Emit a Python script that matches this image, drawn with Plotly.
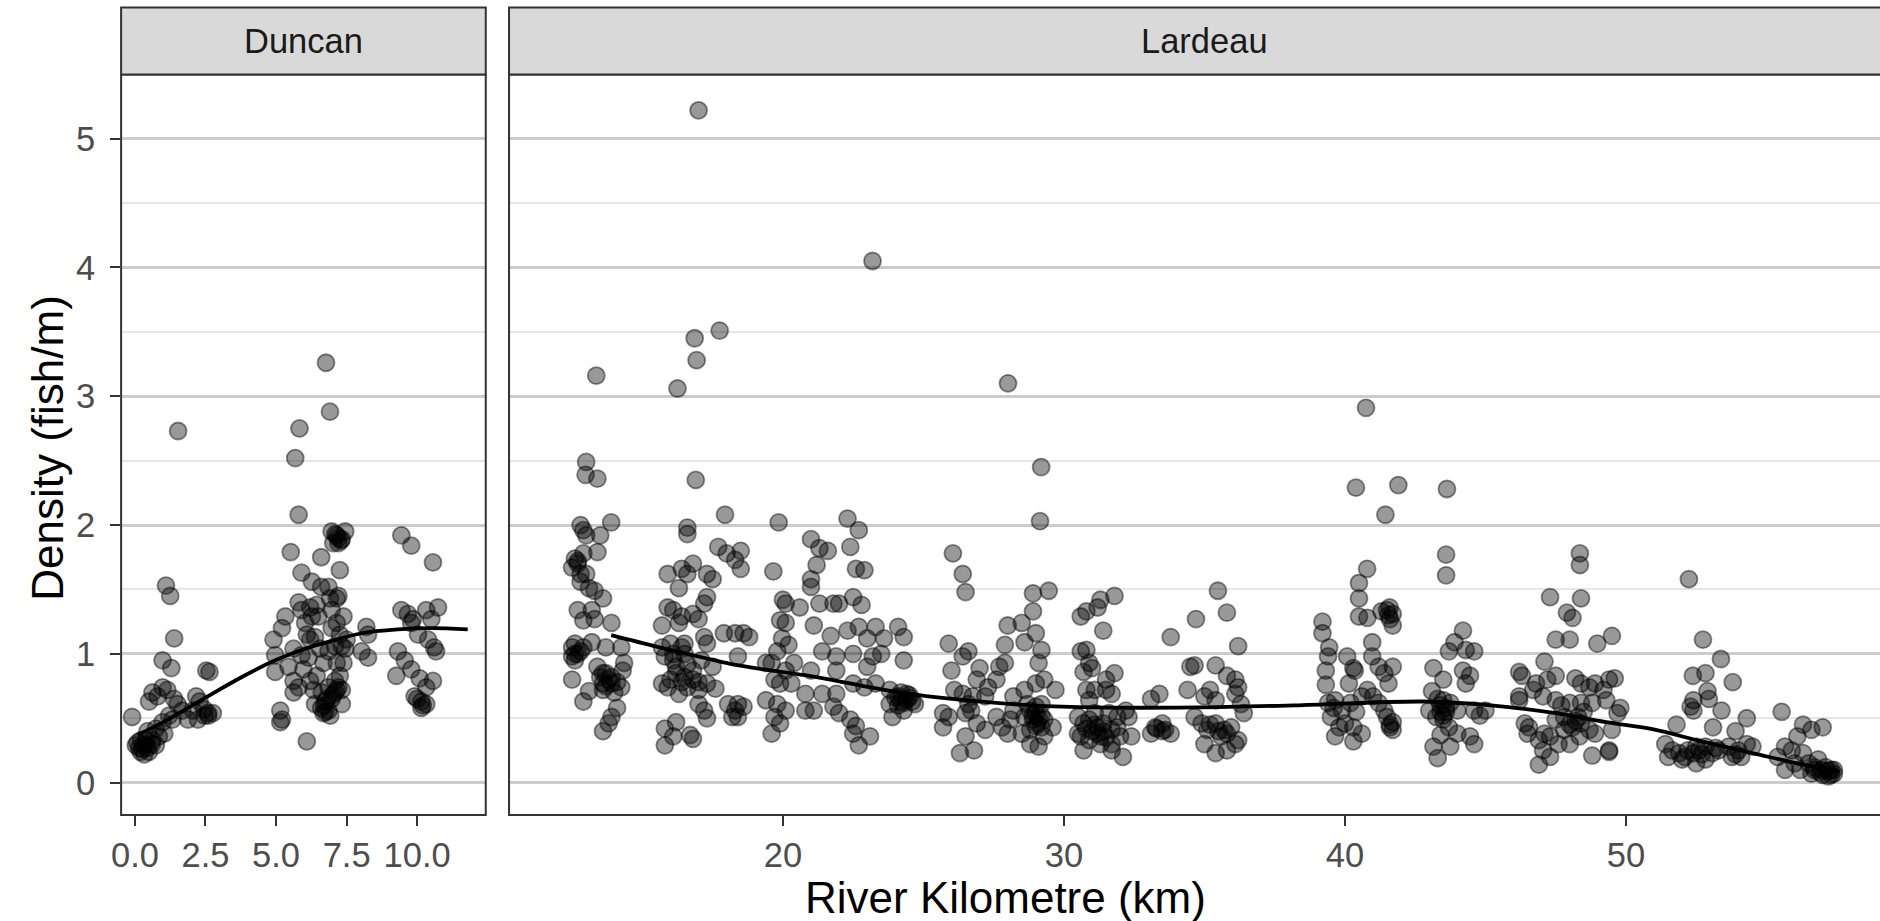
import plotly.graph_objects as go

# ---------------- data ----------------
duncan_km = [
    1.53, 6.77, 6.91, 5.83, 5.68, 5.80, 5.52, 9.44, 9.79, 10.56,
    1.10, 1.25, 1.39, 0.98, 1.29,
    6.60, 5.90, 6.27, 6.60, 6.91, 7.15,
    6.97, 7.15, 7.21, 7.45, 7.03, 7.33, 7.26,
    10.74, 10.32, 10.50, 9.44, 9.67, 9.85,
    8.20, 8.26, 8.03, 8.26,
    9.32, 9.56, 9.26, 9.79, 10.09, 10.32,
    10.60, 10.67, 10.39, 10.03, 9.79,
    9.91, 10.15, 10.32, 10.15, 10.56,
    4.91, 4.97, 5.21, 5.33, 5.62, 4.97, 5.44, 5.62,
    5.80, 5.90, 6.21, 6.27, 6.03, 6.44, 6.50,
    6.09, 6.21, 6.38, 5.90, 6.15, 6.56,
    5.97, 6.21, 6.44, 6.68, 6.86, 6.33,
    5.62, 5.80, 5.15, 5.21, 5.15,
    6.09,
    6.38, 6.62, 6.74, 6.86, 6.97, 6.86, 6.68, 6.92, 7.09, 7.21,
    6.97, 7.15, 7.26, 7.09, 7.33, 7.15, 7.39, 7.26, 7.09, 7.33, 7.15, 6.97, 7.39, 7.21, 7.33, 6.86,
    7.50, 7.45,
    -0.10, 0.09, 0.27, 0.39, 0.50, 0.21, 0.62, 0.03, 0.33, 0.74, 0.85,
    0.45, 0.74, 1.04, 0.98, 1.21,
    0.50, 0.62, 0.80, 0.98, 1.15, 1.39, 1.51, 1.68, 1.33,
    2.06, 2.17, 2.29, 2.47, 2.59, 2.76, 2.23, 1.88,
    2.53, 2.64,
    # denser spots
    0.15, 0.30, 0.45, 0.60, 0.20, 0.40, 6.70, 6.80, 6.60, 7.00, 7.20, 7.30, 7.10, 6.75,
    10.00, 10.20, 2.60, 2.45,
]
duncan_density = [
    2.73, 3.26, 2.88, 2.75, 2.52, 2.08, 1.79, 1.92, 1.84, 1.71,
    1.53, 1.45, 1.12, 0.95, 0.89,
    1.75, 1.63, 1.56, 1.52, 1.43, 1.43,
    1.95, 1.92, 1.86, 1.95, 1.86, 1.89, 1.65,
    1.36, 1.34, 1.27, 1.34, 1.31, 1.27,
    1.21, 1.15, 1.02, 0.97,
    1.02, 0.95, 0.83, 0.88, 0.81, 0.74,
    1.05, 1.02, 1.11, 1.15, 1.24,
    0.67, 0.63, 0.61, 0.58, 0.79,
    1.11, 0.99, 1.20, 1.29, 1.04, 0.86, 0.90, 0.79,
    1.40, 1.34, 1.36, 1.29, 1.24, 1.38, 1.29,
    1.15, 1.11, 1.13, 0.99, 0.97, 1.04,
    0.88, 0.79, 0.83, 0.93, 1.02, 0.72,
    0.70, 0.74, 0.56, 0.49, 0.47,
    0.32,
    0.61, 0.70, 0.63, 0.56, 0.65, 0.74, 0.54, 0.52, 0.70, 0.74,
    1.34, 1.24, 1.15, 1.06, 1.06, 0.93, 0.93, 0.83, 0.79, 0.72, 0.72, 1.20, 1.29, 1.45, 0.61, 1.52,
    1.11, 1.04,
    0.51, 0.31, 0.26, 0.29, 0.24, 0.33, 0.33, 0.29, 0.22, 0.29, 0.36,
    0.40, 0.42, 0.38, 0.47, 0.52,
    0.63, 0.70, 0.67, 0.74, 0.72, 0.65, 0.61, 0.56, 0.49,
    0.56, 0.67, 0.63, 0.52, 0.54, 0.54, 0.49, 0.49,
    0.87, 0.86,
    # denser spots
    0.27, 0.30, 0.27, 0.30, 0.24, 0.33, 0.60, 0.65, 0.58, 0.68, 1.90, 1.88, 1.93, 0.55,
    0.65, 0.60, 0.52, 0.57,
]

lardeau_km = [
    # high values
    17.0, 23.19, 13.36, 16.86, 16.93, 17.75, 16.25, 13.0, 12.98, 13.4, 16.9, 17.94, 19.85,
    28.01, 29.19, 29.15, 40.75, 40.39, 41.9, 41.44, 40.79, 40.5, 40.5, 40.5, 40.8, 41.59,
    26.05, 26.4, 26.5, 28.9, 29.46, 35.48, 35.8, 34.7, 33.8, 36.2,
    43.63, 43.6, 43.6, 48.36, 48.36, 52.24, 47.3, 48.4, 47.9, 48.1, 47.5, 48.0, 48.98, 49.5, 52.74, 53.38, 53.8,
    # km 12.5-14.5
    13.89, 12.8, 12.9, 13.0, 13.5, 13.4, 12.6, 12.5, 12.7, 12.8, 12.9, 12.8, 13.1, 13.3, 13.6, 12.7, 12.9, 13.2, 13.9, 13.3,
    12.6, 12.9, 12.5, 12.8, 13.2, 13.7, 14.25,
    13.4, 13.7, 13.9, 14.25, 13.6, 14.35, 14.3,
    12.5, 12.9, 13.1, 14.1, 13.9, 13.6, 13.8,
    13.5, 13.8, 13.6, 14.0, 12.6, 12.7,
    # km 15.5-18.5
    16.6, 16.6, 17.7, 18.0, 18.3, 15.9, 16.4, 16.8, 16.6, 17.3, 17.5, 16.3, 17.3, 17.2, 16.8, 17.0, 15.9, 16.1, 16.4, 15.7, 16.3,
    17.2, 17.3, 17.9, 18.3,
    15.7, 16.0, 16.5, 15.8, 16.1, 16.6, 17.1, 17.5, 16.8,
    15.7, 15.9, 16.3, 16.6, 17.0, 17.3, 17.6,
    17.0, 17.2, 17.3, 15.8, 16.2, 15.8, 16.1, 16.7, 16.8,
    18.05, 18.3, 18.2,
    16.0, 16.4, 16.2, 16.5,
    18.6, 18.4, 18.4, 18.6, 18.4, 18.5, 18.5, 18.8,
    # km 19.4-25
    19.66, 21.0, 21.3, 21.6, 21.2, 21.0, 21.0, 22.3, 22.7, 22.4, 22.6, 22.9,
    20.0, 20.1, 20.6, 21.3, 21.8, 22.0, 22.5, 22.8,
    19.9, 20.1, 21.1, 21.7, 22.3, 22.7, 23.3, 24.1, 24.3, 23.6, 23.0,
    19.97, 20.2, 19.8, 19.6, 19.4, 20.4,
    21.4, 21.9, 22.5, 23.2, 23.5, 24.3, 23.0,
    21.0, 21.9, 20.1, 19.7, 19.9, 20.3,
    20.8, 21.4, 21.9, 22.5, 22.9, 23.3, 23.8, 24.1, 24.4, 24.7,
    19.4, 19.8, 20.1, 19.7, 19.9, 19.6,
    20.8, 21.1, 21.8, 22.0, 22.4, 22.6, 22.5, 22.7, 23.1, 23.8, 23.9, 24.3,
    24.0, 24.2, 24.4, 24.1, 24.5,
    # km 25.7-26.6
    25.9, 26.0, 26.4, 26.6, 25.7, 25.9, 26.1, 26.4, 25.7, 26.3, 26.5, 26.6,
    # km 26.5-29.8
    27.0, 26.9, 26.75, 27.2, 26.7,
    27.7, 27.9, 27.6, 27.3,
    26.5, 26.9, 27.2, 27.6, 26.8, 27.8, 28.1,
    28.0, 27.9, 28.5, 28.9, 29.0, 29.2, 28.6, 29.1,
    28.2, 28.6, 29.0, 29.3, 29.7, 28.2, 28.6, 29.0, 29.3, 28.0, 28.5, 28.8, 29.2, 29.6, 28.8, 29.1, 29.3,
    28.7, 29.0, 29.2, 28.9, 29.05,
    # km 30.5-32.5
    30.6, 30.8, 31.2, 31.3, 31.8, 31.4,
    30.6, 30.8, 30.9, 30.7, 31.0, 31.8, 31.5,
    30.8, 31.1, 31.5, 31.7, 30.9, 32.2, 32.3,
    30.5, 30.7, 30.9, 31.2, 31.4, 31.7, 31.9, 30.6, 30.9, 31.3, 31.7, 32.0, 30.7, 31.7, 32.1, 31.1, 31.6, 31.9, 30.5, 32.4,
    # km 33-34
    33.1, 33.4, 33.25, 33.6, 33.8, 33.5, 33.1,
    # km 34.4-36.4
    34.5, 34.4,
    34.65, 35.4, 35.8, 36.1, 36.2,
    35.0, 35.2, 35.4, 36.1, 36.3, 36.4,
    34.65, 34.9, 35.1, 35.4, 35.7, 35.8, 35.95, 36.1, 35.0, 35.4, 35.8, 36.2,
    # km 39.2-41.7
    39.2, 39.2, 39.44, 39.4, 39.32, 39.32, 40.08, 40.3, 40.14, 40.97, 40.97,
    41.5, 41.7, 41.6, 41.7,
    40.35, 41.2, 41.4, 41.7, 41.55,
    39.4, 39.65, 39.9, 39.5, 39.8, 40.2, 40.6, 40.8, 41.0, 41.2, 41.4, 41.5, 41.6, 41.7, 40.3, 40.6, 39.65, 40.3, 40.0,
    # km 43-45
    44.2, 43.9, 43.7, 44.3, 44.6,
    43.15, 43.5, 44.2, 44.45, 44.3,
    43.1, 43.5, 43.75, 43.25, 43.0, 44.0, 44.6, 44.8, 45.0, 43.5, 43.7, 43.4, 44.0, 44.45, 44.6, 43.15, 43.75, 43.3,
    43.4, 43.6, 43.3,
    # km 46-50
    47.1, 46.2, 46.3, 47.5, 46.8, 47.2,
    48.2, 48.4, 48.7, 48.9, 49.4, 49.6, 49.2,
    46.2, 46.2, 46.7, 47.05, 47.5, 48.0, 48.4, 48.8, 49.3, 49.8, 49.7,
    46.4, 46.55, 46.9, 47.3, 47.8, 48.1, 48.4, 48.7, 48.9, 49.5, 47.05, 47.3, 47.6, 48.0, 48.35, 48.8, 49.4, 46.9, 47.8, 48.3, 47.5,
    # km 51-54.5
    52.38, 52.83, 52.9, 52.95, 52.4, 52.3, 52.4,
    53.4, 54.3, 53.9, 53.1, 51.8,
    51.4, 51.65, 51.9, 52.1, 52.4, 52.6, 52.83, 53.07, 53.3, 53.66, 54.0, 54.3, 54.5, 51.5, 52.5, 52.0, 53.77, 54.1, 52.83,
    # km 55.4-57.4
    55.54, 56.3, 56.6, 57.0, 56.1,
    55.66, 55.9, 56.3, 55.4, 55.66, 56.0, 56.5, 56.84, 57.1, 57.3, 57.4, 57.2, 56.96, 56.7, 56.6, 56.2,
    # denser spots
    13.6, 13.9, 14.1, 13.7, 12.6, 12.5, 13.0, 12.7,
    16.2, 16.5, 16.8, 17.0, 16.1, 16.4,
    24.3, 24.5, 24.2, 24.6,
    28.9, 29.1, 29.0, 28.8, 29.2,
    31.0, 31.2, 31.4, 30.8, 31.1, 31.5, 31.3,
    33.3, 33.5,
    35.5, 35.6, 35.2,
    41.6, 41.7, 40.4, 39.6, 41.3, 41.55,
    43.4, 43.6, 43.5,
    47.1, 48.0, 48.2, 48.5, 47.7, 46.5, 49.4,
    52.2, 52.7, 53.2, 53.9, 52.5,
    56.9, 57.2, 57.0, 57.4, 56.7, 57.3,
]
lardeau_density = [
    # high values
    5.22, 4.05, 3.16, 3.45, 3.28, 3.51, 3.06, 2.49, 2.39, 2.36, 2.35, 2.08, 2.02,
    3.10, 2.45, 2.03, 2.91, 2.29, 2.31, 2.08, 1.66, 1.55, 1.43, 1.29, 1.28, 1.36,
    1.78, 1.62, 1.48, 1.47, 1.49, 1.49, 1.32, 1.27, 1.13, 1.06,
    2.28, 1.77, 1.61, 1.78, 1.69, 1.58, 1.44, 1.43, 1.32, 1.28, 1.11, 1.11, 1.08, 1.14, 1.11, 0.96, 0.78,
    # km 12.5-14.5
    2.02, 2.00, 1.96, 1.92, 1.92, 1.79, 1.74, 1.67, 1.70, 1.62, 1.78, 1.56, 1.51, 1.49, 1.43, 1.34, 1.26, 1.34, 1.24, 1.27,
    1.08, 1.05, 0.98, 1.02, 1.09, 1.05, 1.05,
    0.90, 0.85, 0.77, 0.74, 0.77, 0.93, 0.87,
    0.80, 0.63, 0.71, 0.58, 0.51, 0.40, 0.46,
    0.82, 0.80, 0.72, 0.70, 0.95, 1.00,
    # km 15.5-18.5
    1.98, 1.93, 1.83, 1.78, 1.73, 1.62, 1.66, 1.70, 1.62, 1.62, 1.58, 1.51, 1.44, 1.39, 1.31, 1.27, 1.36, 1.34, 1.29, 1.22, 1.24,
    1.13, 1.08, 1.16, 1.16,
    1.05, 1.08, 1.08, 0.98, 0.95, 0.92, 0.95, 0.90, 0.87,
    0.77, 0.74, 0.69, 0.74, 0.72, 0.77, 0.73,
    0.61, 0.56, 0.50, 0.42, 0.47, 0.29, 0.36, 0.37, 0.34,
    0.61, 0.56, 0.51,
    0.80, 0.78, 0.90, 1.00,
    1.16, 0.98, 0.61, 0.59, 0.51, 1.80, 1.66, 1.13,
    # km 19.4-25
    1.64, 1.89, 1.82, 1.80, 1.69, 1.58, 1.52, 2.05, 1.96, 1.83, 1.66, 1.65,
    1.42, 1.39, 1.36, 1.39, 1.39, 1.39, 1.44, 1.38,
    1.26, 1.24, 1.22, 1.14, 1.18, 1.21, 1.21, 1.21, 1.13, 1.12, 1.12,
    1.12, 1.07, 1.02, 0.93, 0.93, 0.93,
    1.02, 0.98, 1.00, 0.98, 1.00, 0.95, 0.90,
    0.87, 0.87, 0.87, 0.80, 0.77, 0.77,
    0.69, 0.69, 0.69, 0.77, 0.74, 0.77, 0.72, 0.67, 0.69, 0.61,
    0.64, 0.61, 0.56, 0.51, 0.46, 0.38,
    0.56, 0.56, 0.59, 0.54, 0.49, 0.44, 0.38, 0.29, 0.36, 0.61, 0.51, 0.56,
    0.66, 0.63, 0.64, 0.60, 0.66,
    # km 25.7-26.6
    1.08, 0.87, 0.98, 1.02, 0.54, 0.51, 0.72, 0.69, 0.43, 0.23, 0.36, 0.61,
    # km 26.5-29.8
    0.89, 0.80, 0.67, 0.67, 0.56,
    0.90, 0.93, 0.80, 0.74,
    0.54, 0.46, 0.41, 0.51, 0.25, 0.43, 0.49,
    1.22, 1.07, 1.24, 1.33, 1.16, 1.03, 1.09, 0.93,
    0.67, 0.72, 0.77, 0.80, 0.72, 0.56, 0.51, 0.54, 0.49, 0.38, 0.38, 0.41, 0.43, 0.43, 0.30, 0.28, 0.36,
    0.61, 0.59, 0.61, 0.49, 0.46,
    # km 30.5-32.5
    1.29, 1.33, 1.36, 1.42, 1.45, 1.18,
    1.02, 1.03, 0.93, 0.86, 0.89, 0.85, 0.80,
    0.72, 0.72, 0.72, 0.69, 0.64, 0.56, 0.51,
    0.51, 0.46, 0.49, 0.43, 0.46, 0.41, 0.43, 0.36, 0.33, 0.36, 0.30, 0.36, 0.25, 0.25, 0.20, 0.54, 0.54, 0.51, 0.38, 0.36,
    # km 33-34
    0.65, 0.69, 0.43, 0.41, 0.38, 0.46, 0.38,
    # km 34.4-36.4
    0.90, 0.72,
    0.91, 0.91, 0.83, 0.80, 0.74,
    0.67, 0.72, 0.64, 0.69, 0.61, 0.54,
    0.51, 0.46, 0.41, 0.46, 0.41, 0.38, 0.43, 0.30, 0.30, 0.23, 0.25, 0.33,
    # km 39.2-41.7
    1.25, 1.16, 1.05, 0.98, 0.87, 0.76, 0.98, 0.89, 0.77, 1.09, 0.98,
    1.34, 1.31, 1.27, 1.22,
    0.87, 0.90, 0.85, 0.90, 0.77,
    0.62, 0.64, 0.56, 0.51, 0.43, 0.62, 0.67, 0.72, 0.67, 0.62, 0.56, 0.51, 0.43, 0.41, 0.43, 0.38, 0.36, 0.32, 0.46,
    # km 43-45
    1.18, 1.09, 1.02, 1.03, 1.02,
    0.89, 0.80, 0.87, 0.83, 0.77,
    0.71, 0.64, 0.62, 0.51, 0.56, 0.56, 0.56, 0.52, 0.56, 0.49, 0.43, 0.37, 0.38, 0.36, 0.30, 0.28, 0.28, 0.19,
    0.60, 0.55, 0.65,
    # km 46-50
    0.94, 0.86, 0.83, 0.83, 0.77, 0.80,
    0.81, 0.77, 0.74, 0.77, 0.80, 0.81, 0.72,
    0.67, 0.64, 0.72, 0.67, 0.64, 0.62, 0.62, 0.62, 0.64, 0.58, 0.54,
    0.46, 0.43, 0.33, 0.36, 0.41, 0.43, 0.46, 0.41, 0.38, 0.41, 0.25, 0.20, 0.30, 0.30, 0.36, 0.21, 0.24, 0.14, 0.51, 0.51, 0.49,
    # km 51-54.5
    0.83, 0.85, 0.71, 0.65, 0.64, 0.59, 0.56,
    0.56, 0.50, 0.40, 0.43, 0.45,
    0.30, 0.25, 0.23, 0.20, 0.23, 0.25, 0.28, 0.23, 0.25, 0.28, 0.25, 0.30, 0.28, 0.20, 0.15, 0.18, 0.20, 0.20, 0.18,
    # km 55.4-57.4
    0.55, 0.45, 0.41, 0.43, 0.36,
    0.28, 0.25, 0.23, 0.20, 0.10, 0.15, 0.15, 0.18, 0.12, 0.10, 0.07, 0.05, 0.10, 0.12, 0.07, 0.10,
    # denser spots
    0.85, 0.82, 0.78, 0.75, 1.00, 1.05, 1.62, 1.72,
    0.85, 0.82, 0.80, 0.78, 1.00, 1.05,
    0.62, 0.68, 0.70, 0.63,
    0.52, 0.50, 0.44, 0.56, 0.52,
    0.40, 0.38, 0.40, 0.42, 0.45, 0.35, 0.30,
    0.42, 0.40,
    0.40, 0.36, 0.45,
    0.45, 0.47, 0.55, 0.58, 1.33, 1.30,
    0.55, 0.58, 0.52,
    0.38, 0.45, 0.48, 0.55, 0.60, 0.38, 0.25,
    0.25, 0.22, 0.27, 0.22, 0.28,
    0.08, 0.09, 0.06, 0.10, 0.10, 0.06,
]

duncan_smooth_km = [0.09, 1.09, 2.5, 3.79, 4.97, 6.03, 6.97, 8.03, 9.32, 10.5, 11.79]
duncan_smooth_density = [0.37, 0.48, 0.66, 0.82, 0.95, 1.04, 1.10, 1.16, 1.19, 1.20, 1.19]

lardeau_smooth_km = [13.89, 15.54, 17.3, 18.37, 21.2, 24.0, 26.5, 28.87, 31.2, 34.65,
                     38.2, 42.8, 45.2, 47.5, 49.3, 50.94, 52.7, 54.5, 56.3, 57.6]
lardeau_smooth_density = [1.145, 1.054, 0.964, 0.912, 0.82, 0.705, 0.64, 0.60, 0.584, 0.584,
                          0.60, 0.63, 0.60, 0.54, 0.47, 0.415, 0.32, 0.23, 0.14, 0.085]

panel_labels = ["Duncan", "Lardeau"]
duncan_ticks = [0, 2.5, 5, 7.5, 10]
duncan_ticktext = ["0.0", "2.5", "5.0", "7.5", "10.0"]
lardeau_ticks = [20, 30, 40, 50]

# ---------------- layout geometry (pixels) ----------------
W, H = 1880, 921
FONT = "Liberation Sans, Arial, Helvetica, sans-serif"


def fx(x):
    return x / W


def fy(y):
    return 1 - y / H


d_left, d_right = 111.7, 478.3
l_left = 501.7
p_top, p_bottom = 74.6, 815.0
s_top = 7.6

marker = dict(size=17, color="rgba(0,0,0,0.4)",
              line=dict(color="rgba(0,0,0,0.45)", width=1.8))

fig = go.Figure()
fig.add_trace(go.Scatter(x=duncan_km, y=duncan_density, mode="markers",
                         marker=marker, xaxis="x", yaxis="y", showlegend=False))
fig.add_trace(go.Scatter(x=duncan_smooth_km, y=duncan_smooth_density, mode="lines",
                         line=dict(color="black", width=3.8, shape="spline"),
                         xaxis="x", yaxis="y", showlegend=False))
fig.add_trace(go.Scatter(x=lardeau_km, y=lardeau_density, mode="markers",
                         marker=marker, xaxis="x2", yaxis="y2", showlegend=False))
fig.add_trace(go.Scatter(x=lardeau_smooth_km, y=lardeau_smooth_density, mode="lines",
                         line=dict(color="black", width=3.8, shape="spline"),
                         xaxis="x2", yaxis="y2", showlegend=False))

tickfont = dict(family=FONT, size=34.5, color="#4D4D4D")
yrange = [-0.251, 5.497]
ygrid = dict(showgrid=True, gridcolor="#CCCCCC", gridwidth=3,
             minor=dict(dtick=0.5, tick0=0, showgrid=True, gridcolor="#E6E6E6", gridwidth=1.6, ticks=""),
             zeroline=False, showline=False, range=yrange, tick0=0, dtick=1,
             domain=[fy(p_bottom), fy(p_top)])

xcommon = dict(showgrid=False, zeroline=False, showline=False, ticks="outside",
               ticklen=10, tickwidth=2, tickcolor="#333333", tickfont=tickfont)

fig.update_layout(
    width=W, height=H, autosize=False,
    margin=dict(l=0, r=0, t=0, b=0, pad=0),
    paper_bgcolor="white", plot_bgcolor="white",
    font=dict(family=FONT),
    xaxis=dict(domain=[fx(d_left), fx(d_right)], range=[-0.49, 12.43],
               tickvals=duncan_ticks, ticktext=duncan_ticktext, anchor="y", **xcommon),
    xaxis2=dict(domain=[fx(l_left), 1.0], range=[10.255, 59.04],
                tickvals=lardeau_ticks, anchor="y2", **xcommon),
    yaxis=dict(anchor="x", ticks="outside", ticklen=10, tickwidth=2, tickcolor="#333333",
               tickfont=tickfont, ticklabelstandoff=8, **ygrid),
    yaxis2=dict(anchor="x2", matches="y", showticklabels=False, ticks="", **ygrid),
)

shapes = []
# panel borders
shapes.append(dict(type="rect", xref="paper", yref="paper", x0=fx(d_left), x1=fx(d_right),
                   y0=fy(p_bottom), y1=fy(p_top), line=dict(color="#333333", width=2),
                   fillcolor="rgba(0,0,0,0)", layer="above"))
shapes.append(dict(type="rect", xref="paper", yref="paper", x0=fx(l_left), x1=1.02,
                   y0=fy(p_bottom), y1=fy(p_top), line=dict(color="#333333", width=2),
                   fillcolor="rgba(0,0,0,0)", layer="above"))
# strips
shapes.append(dict(type="rect", xref="paper", yref="paper", x0=fx(d_left), x1=fx(d_right),
                   y0=fy(p_top), y1=fy(s_top), line=dict(color="#333333", width=2),
                   fillcolor="#D9D9D9", layer="above"))
shapes.append(dict(type="rect", xref="paper", yref="paper", x0=fx(l_left), x1=1.02,
                   y0=fy(p_top), y1=fy(s_top), line=dict(color="#333333", width=2),
                   fillcolor="#D9D9D9", layer="above"))
fig.update_layout(shapes=shapes)

strip_y = fy((s_top + p_top) / 2)
annotations = [
    dict(text=panel_labels[0], x=fx((d_left + d_right) / 2), y=strip_y, xref="paper", yref="paper",
         showarrow=False, xanchor="center", yanchor="middle",
         font=dict(family=FONT, size=34.5, color="#1A1A1A")),
    dict(text=panel_labels[1], x=fx(1200.9), y=strip_y, xref="paper", yref="paper",
         showarrow=False, xanchor="center", yanchor="middle",
         font=dict(family=FONT, size=34.5, color="#1A1A1A")),
    dict(text="River Kilometre (km)", x=fx(1000.6), y=fy(897), xref="paper", yref="paper",
         showarrow=False, xanchor="center", yanchor="middle",
         font=dict(family=FONT, size=44, color="black")),
    dict(text="Density (fish/m)", x=fx(37.5), y=fy(447.5), xref="paper", yref="paper",
         showarrow=False, xanchor="center", yanchor="middle", textangle=-90,
         font=dict(family=FONT, size=44, color="black")),
]
fig.update_layout(annotations=annotations)

fig.write_html("out.html")
